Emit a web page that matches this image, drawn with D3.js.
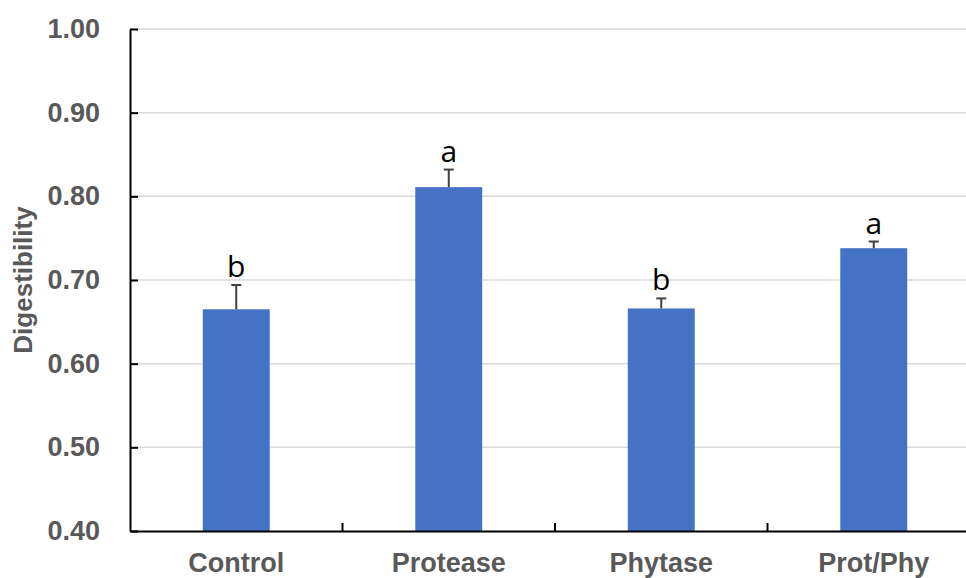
<!DOCTYPE html>
<html>
<head>
<meta charset="utf-8">
<script src="https://cdn.jsdelivr.net/npm/d3@7"></script>
<style>
  html, body { margin: 0; padding: 0; background: #fff; }
  svg { display: block; }
</style>
</head>
<body>
<div id="chart"></div>
<script>
// Data
const categories = ["Control", "Protease", "Phytase", "Prot/Phy"];
const means = [0.665, 0.811, 0.666, 0.738];
const errors = [0.029, 0.021, 0.012, 0.008];
const letters = ["b", "a", "b", "a"];
const yTicks = [0.40, 0.50, 0.60, 0.70, 0.80, 0.90, 1.00];

// Dimensions (plot area runs past the right edge, as in the original crop)
const W = 966, H = 578;
const margin = { top: 29, left: 130, bottom: 47 };
const plotRight = 980;

const svg = d3.select("#chart")
  .append("svg")
  .attr("width", W)
  .attr("height", H);

const y = d3.scaleLinear()
  .domain([0.40, 1.00])
  .range([H - margin.bottom, margin.top]);

const x = d3.scaleBand()
  .domain(categories)
  .range([margin.left, plotRight])
  .padding(0);

const barW = x.bandwidth() * 0.315;

// Gridlines
svg.append("g")
  .selectAll("line")
  .data(yTicks.slice(1))
  .join("line")
  .attr("x1", margin.left)
  .attr("x2", W)
  .attr("y1", d => y(d))
  .attr("y2", d => y(d))
  .attr("stroke", "#d9d9d9")
  .attr("stroke-width", 1.5);

// Bars
svg.append("g")
  .selectAll("rect")
  .data(categories)
  .join("rect")
  .attr("x", d => x(d) + (x.bandwidth() - barW) / 2)
  .attr("y", (d, i) => y(means[i]))
  .attr("width", barW)
  .attr("height", (d, i) => y(0.40) - y(means[i]))
  .attr("fill", "#4472c4");

// Error bars (upper only)
const eb = svg.append("g")
  .attr("stroke", "#404040")
  .attr("stroke-width", 2);
categories.forEach(function (c, i) {
  const cx = x(c) + x.bandwidth() / 2;
  const top = y(means[i] + errors[i]);
  eb.append("line")
    .attr("x1", cx).attr("x2", cx)
    .attr("y1", y(means[i])).attr("y2", top);
  eb.append("line")
    .attr("x1", cx - 5).attr("x2", cx + 5)
    .attr("y1", top).attr("y2", top);
});

// Significance letters
svg.append("g")
  .selectAll("text")
  .data(categories)
  .join("text")
  .attr("x", d => x(d) + x.bandwidth() / 2)
  .attr("y", (d, i) => y(means[i] + errors[i]) - 8)
  .attr("text-anchor", "middle")
  .attr("font-family", "'Open Sans', sans-serif")
  .attr("font-size", "30px")
  .attr("fill", "#000")
  .text((d, i) => letters[i]);

// Y axis
const yAxis = svg.append("g")
  .attr("transform", `translate(${margin.left},0)`)
  .call(d3.axisLeft(y)
    .tickValues(yTicks)
    .tickFormat(d3.format(".2f"))
    .tickSizeInner(-8)
    .tickSizeOuter(0)
    .tickPadding(30));
yAxis.select(".domain").attr("stroke", "#000").attr("stroke-width", 2);
yAxis.selectAll(".tick line").attr("stroke", "#000").attr("stroke-width", 2);
yAxis.selectAll(".tick text")
  .attr("font-family", "'Liberation Sans', Arial, sans-serif")
  .attr("font-weight", "bold")
  .attr("font-size", "27px")
  .attr("fill", "#595959");

// X axis
const xAxis = svg.append("g")
  .attr("transform", `translate(0,${y(0.40)})`)
  .call(d3.axisBottom(x).tickSize(0).tickPadding(22));
xAxis.select(".domain").attr("stroke", "#000").attr("stroke-width", 2);
xAxis.selectAll(".tick text")
  .attr("font-family", "'Liberation Sans', Arial, sans-serif")
  .attr("font-weight", "bold")
  .attr("font-size", "27px")
  .attr("fill", "#595959");

// Category boundary ticks (pointing inward)
svg.append("g")
  .selectAll("line")
  .data(categories.slice(1))
  .join("line")
  .attr("x1", d => x(d))
  .attr("x2", d => x(d))
  .attr("y1", y(0.40))
  .attr("y2", y(0.40) - 8)
  .attr("stroke", "#000")
  .attr("stroke-width", 2);

// Y axis title
svg.append("text")
  .attr("transform", `translate(32,${(y(0.40) + y(1.00)) / 2}) rotate(-90)`)
  .attr("text-anchor", "middle")
  .attr("font-family", "'Liberation Sans', Arial, sans-serif")
  .attr("font-weight", "bold")
  .attr("font-size", "26px")
  .attr("fill", "#595959")
  .text("Digestibility");
</script>
</body>
</html>
